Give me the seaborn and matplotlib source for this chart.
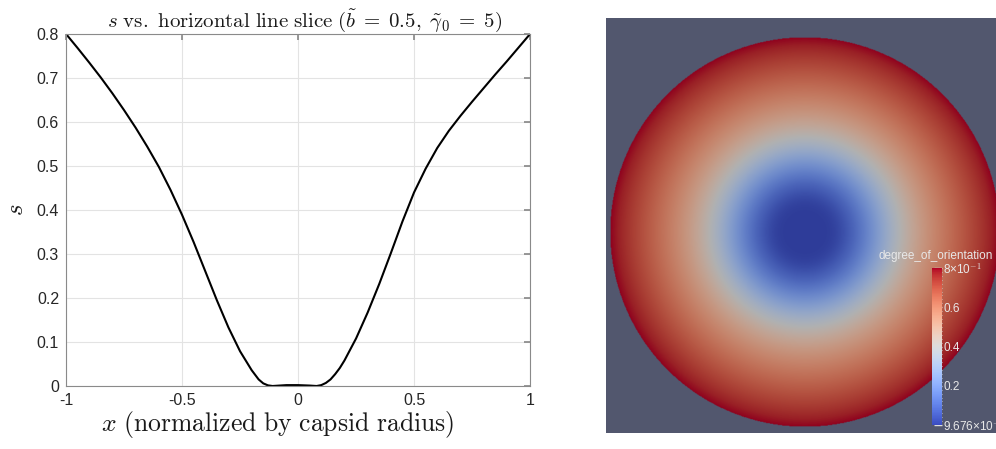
import numpy as np
import pandas as pd
import seaborn as sns
import matplotlib.pyplot as plt
from matplotlib.colors import Normalize

# line slice values
x_pos = [-1.0, -0.95, -0.90, -0.85, -0.80, -0.75, -0.70, -0.65, -0.60, -0.55,
         -0.50, -0.45, -0.40, -0.35, -0.30, -0.25, -0.20, -0.17, -0.15, -0.13,
         -0.11, -0.05, 0.0, 0.05, 0.08, 0.10, 0.12, 0.14, 0.16, 0.18,
         0.20, 0.25, 0.30, 0.35, 0.40, 0.45, 0.50, 0.55, 0.60, 0.65,
         0.70, 0.75, 0.80, 0.85, 0.90, 0.95, 1.0]
s_val = [0.800, 0.768, 0.735, 0.701, 0.665, 0.627, 0.587, 0.544, 0.498, 0.446,
         0.389, 0.327, 0.261, 0.195, 0.133, 0.079, 0.036, 0.015, 0.006, 0.0015,
         0.0, 0.002, 0.002, 0.001, 0.0, 0.002, 0.007, 0.015, 0.027, 0.041,
         0.058, 0.108, 0.167, 0.232, 0.302, 0.374, 0.440, 0.494, 0.541, 0.580,
         0.614, 0.646, 0.677, 0.708, 0.738, 0.769, 0.800]

x_ticks = [-1, -0.5, 0, 0.5, 1]
x_ticklabels = ['-1', '-0.5', '0', '0.5', '1']
y_ticks = [0, 0.1, 0.2, 0.3, 0.4, 0.5, 0.6, 0.7, 0.8]
y_ticklabels = ['0', '0.1', '0.2', '0.3', '0.4', '0.5', '0.6', '0.7', '0.8']

cbar_ticks = [0.0, 0.2, 0.4, 0.6, 0.8]
cbar_labels = ['9.676\u00d710$^{-5}$', '0.2', '0.4', '0.6', '8\u00d710$^{-1}$']

sns.set_theme(style='white')
plt.rcParams['font.family'] = ['Liberation Sans', 'DejaVu Sans']
plt.rcParams['mathtext.fontset'] = 'cm'
plt.rcParams['axes.unicode_minus'] = False

fig = plt.figure(figsize=(9.96, 4.49), dpi=100)
fig.patch.set_facecolor('white')

# ---- left: line slice
ax = fig.add_axes([0.0663, 0.1403, 0.4659, 0.784])
df = pd.DataFrame({'x': x_pos, 's': s_val})
sns.lineplot(data=df, x='x', y='s', ax=ax, color='black', linewidth=1.5)
ax.set_xlim(-1, 1)
ax.set_ylim(0, 0.8)
ax.set_xticks(x_ticks)
ax.set_xticklabels(x_ticklabels)
ax.set_yticks(y_ticks)
ax.set_yticklabels(y_ticklabels)
ax.grid(True, color='#e3e3e3', linewidth=0.8)
ax.set_axisbelow(True)
for sp in ax.spines.values():
    sp.set_color('#8a8a8a')
    sp.set_linewidth(0.8)
ax.tick_params(direction='in', length=4, color='#8a8a8a', labelsize=11.5,
               labelcolor='#262626', top=True, right=True, pad=5)
ax.set_title(r'$s\ \mathrm{vs.\ horizontal\ line\ slice}\ (\tilde{b}\;=\;0.5,\;\tilde{\gamma}_0\;=\;5)$',
             fontsize=15, pad=5, color='#1a1a1a', x=0.513)
ax.set_xlabel(r'$x\ \mathrm{(normalized\ by\ capsid\ radius)}$', fontsize=18.5, labelpad=1,
              color='#1a1a1a')
ax.xaxis.label.set_x(0.4556)
ax.set_ylabel(r'$s$', fontsize=18, labelpad=6, color='#1a1a1a')

# ---- right: disc coloured by s(r)
bg = '#52576e'
ax2 = fig.add_axes([0.6084, 0.0356, 0.3916, 0.924])
ax2.set_facecolor(bg)
ax2.set_xlim(-1.0185, 0.9846)
ax2.set_ylim(-1.0333, 1.0949)
ax2.set_xticks([])
ax2.set_yticks([])
for sp in ax2.spines.values():
    sp.set_visible(False)

g = np.linspace(-1, 1, 600)
gx, gy = np.meshgrid(g, g)
r = np.sqrt(gx ** 2 + gy ** 2)
s_disc = 0.5 * (np.interp(r, x_pos, s_val) + np.interp(-r, x_pos, s_val))
cmap = plt.get_cmap('coolwarm')
norm = Normalize(vmin=0.0, vmax=0.8)
rgba = cmap(norm(s_disc))
rgba[..., :3] *= 0.8
rgba[..., 3] = np.where(r <= 1.0, 1.0, 0.0)
ax2.imshow(rgba, extent=[-1, 1, -1, 1], origin='lower', interpolation='bilinear')
ax2.set_aspect('auto')

# colour bar inside the render window
cax = fig.add_axes([932 / 996, (449 - 425) / 449, 10 / 996, 157 / 449])
sm = plt.cm.ScalarMappable(cmap=cmap, norm=norm)
cb = fig.colorbar(sm, cax=cax)
cb.outline.set_visible(False)
cb.set_ticks(cbar_ticks)
cb.set_ticklabels(cbar_labels)
cb.ax.yaxis.set_minor_locator(plt.MultipleLocator(0.02))
cb.ax.tick_params(which='major', direction='in', length=6, width=1, color='#dddddd',
                  labelsize=8.5, labelcolor='#e8e8e8', pad=1)
cb.ax.tick_params(which='minor', direction='in', length=4, width=0.8, color='#cccccc')
fig.text(878 / 996, 1 - 256 / 449, 'degree_of_orientation', fontsize=8.5,
         color='#e8e8e8', va='center', ha='left')

fig.savefig('out.png', dpi=100)
